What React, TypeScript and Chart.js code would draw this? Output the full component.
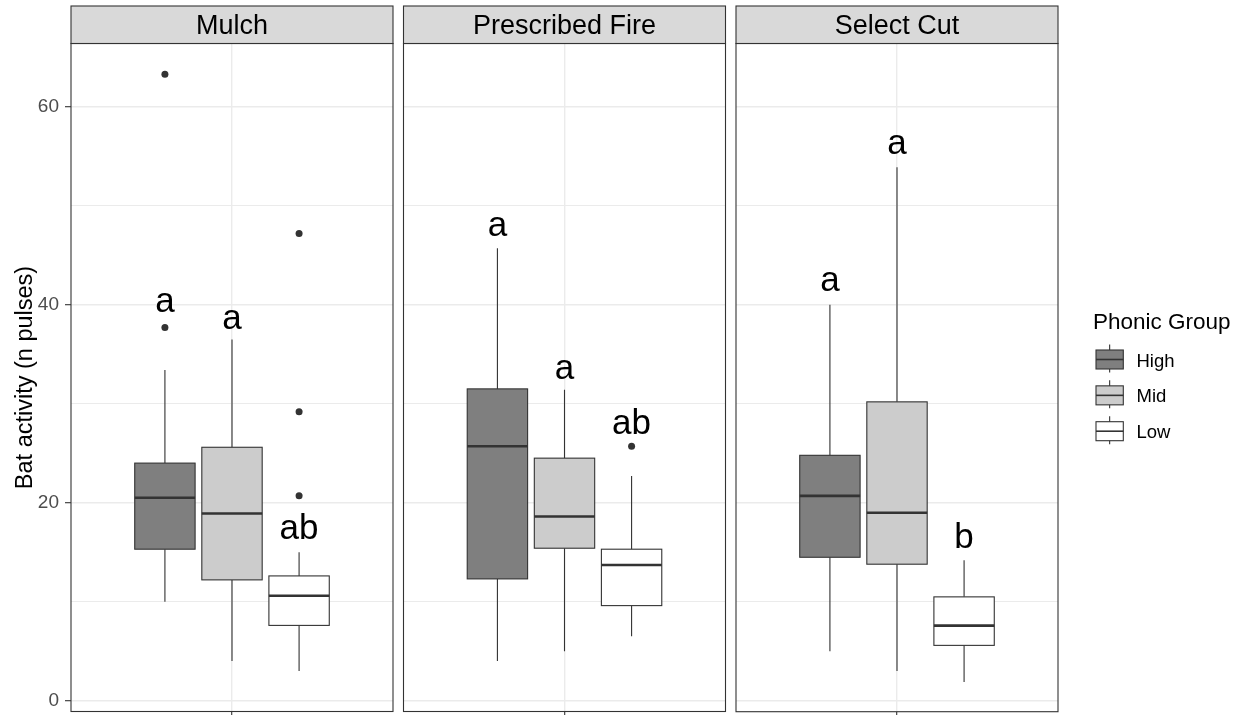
import React, { useEffect, useRef } from 'react';
import { Chart, registerables } from 'chart.js';

Chart.register(...registerables);

const FONT = "'Liberation Sans', Arial, Helvetica, sans-serif";

// ---- data ----
const treatments = ['Mulch', 'Prescribed Fire', 'Select Cut'];
const groups = ['High', 'Mid', 'Low'];
const groupColors = ['#7F7F7F', '#CCCCCC', '#FFFFFF'];

// each row: one treatment, values for [High, Mid, Low]
const whiskerLow = [[10.0, 4.0, 3.0], [4.0, 5.0, 6.5], [5.0, 3.0, 1.9]];
const quartile1 = [[15.3, 12.2, 7.6], [12.3, 15.4, 9.6], [14.5, 13.8, 5.6]];
const medians = [[20.5, 18.9, 10.6], [25.7, 18.6, 13.7], [20.7, 19.0, 7.6]];
const quartile3 = [[24.0, 25.6, 12.6], [31.5, 24.5, 15.3], [24.8, 30.2, 10.5]];
const whiskerHigh = [[33.4, 36.5, 15.0], [45.7, 31.4, 22.7], [40.0, 53.9, 14.2]];
const outliers = [
  [[63.3, 37.7], [], [47.2, 29.2, 20.7]],
  [[], [], [25.7]],
  [[], [], []],
];
const letters = [['a', 'a', 'ab'], ['a', 'a', 'ab'], ['a', 'a', 'b']];
const letterHeights = [[39.3, 37.6, 16.3], [46.9, 32.5, 26.9], [41.4, 55.2, 15.4]];
const yTicks = [0, 10, 20, 30, 40, 50, 60];
const yMin = -1.1;
const yMax = 66.4;

// ---- layout constants ----
const DODGE = 0.25;
const BOX_W = 0.225;
const PANEL_TOP = 43.5;
const STRIP_H = 37.5;
const H = 715;

function zeroPad(s: any) {
  s.paddingTop = 0;
  s.paddingBottom = 0;
  s.paddingLeft = 0;
  s.paddingRight = 0;
}

function makePlugin(p: number, legend: boolean, canvasLeft: number) {
  return {
    id: 'facet' + p,
    beforeDatasetsDraw(chart: any) {
      const { ctx } = chart;
      const x = chart.scales.x;
      const y = chart.scales.y;
      ctx.save();
      groups.forEach((_g, i) => {
        const c = 1 + (i - 1) * DODGE;
        const cx = x.getPixelForValue(c);
        const l = x.getPixelForValue(c - BOX_W / 2);
        const r = x.getPixelForValue(c + BOX_W / 2);
        const yWl = y.getPixelForValue(whiskerLow[p][i]);
        const yQ1 = y.getPixelForValue(quartile1[p][i]);
        const yMd = y.getPixelForValue(medians[p][i]);
        const yQ3 = y.getPixelForValue(quartile3[p][i]);
        const yWh = y.getPixelForValue(whiskerHigh[p][i]);
        ctx.strokeStyle = '#333333';
        ctx.lineWidth = 1.1;
        ctx.beginPath();
        ctx.moveTo(cx, yWh);
        ctx.lineTo(cx, yQ3);
        ctx.moveTo(cx, yQ1);
        ctx.lineTo(cx, yWl);
        ctx.stroke();
        ctx.fillStyle = groupColors[i];
        ctx.fillRect(l, yQ3, r - l, yQ1 - yQ3);
        ctx.strokeRect(l, yQ3, r - l, yQ1 - yQ3);
        ctx.lineWidth = 2.6;
        ctx.lineCap = 'butt';
        ctx.beginPath();
        ctx.moveTo(l, yMd);
        ctx.lineTo(r, yMd);
        ctx.stroke();
      });
      ctx.restore();
    },
    afterDatasetsDraw(chart: any) {
      const { ctx } = chart;
      const x = chart.scales.x;
      const y = chart.scales.y;
      ctx.save();
      ctx.fillStyle = '#000000';
      ctx.font = `35px ${FONT}`;
      ctx.textAlign = 'center';
      ctx.textBaseline = 'alphabetic';
      groups.forEach((_g, i) => {
        const cx = x.getPixelForValue(1 + (i - 1) * DODGE);
        ctx.fillText(letters[p][i], cx, y.getPixelForValue(letterHeights[p][i]));
      });
      ctx.restore();
    },
    afterDraw(chart: any) {
      const { ctx, chartArea } = chart;
      const { left, right, top, bottom } = chartArea;
      ctx.save();
      // panel border
      ctx.strokeStyle = '#333333';
      ctx.lineWidth = 1.1;
      ctx.strokeRect(left, top, right - left, bottom - top);
      // strip
      const st = top - STRIP_H;
      ctx.fillStyle = '#D9D9D9';
      ctx.fillRect(left, st, right - left, STRIP_H);
      ctx.strokeRect(left, st, right - left, STRIP_H);
      ctx.fillStyle = '#000000';
      ctx.font = `27px ${FONT}`;
      ctx.textAlign = 'center';
      ctx.textBaseline = 'alphabetic';
      ctx.fillText(treatments[p], (left + right) / 2, st + 28.3);

      if (legend) {
        const ox = canvasLeft;
        ctx.textAlign = 'left';
        ctx.fillStyle = '#000000';
        ctx.font = `22.5px ${FONT}`;
        ctx.fillText('Phonic Group', 1093 - ox, 329);
        ctx.font = `18.5px ${FONT}`;
        groups.forEach((g, i) => {
          const cy = 359.5 + i * 35.85;
          const bl = 1096 - ox;
          const bw = 27.3;
          const cx = bl + bw / 2;
          ctx.strokeStyle = '#333333';
          ctx.lineWidth = 1.1;
          ctx.beginPath();
          ctx.moveTo(cx, cy - 15);
          ctx.lineTo(cx, cy + 13);
          ctx.stroke();
          ctx.fillStyle = groupColors[i];
          ctx.fillRect(bl, cy - 9.5, bw, 19);
          ctx.strokeRect(bl, cy - 9.5, bw, 19);
          ctx.lineWidth = 1.6;
          ctx.beginPath();
          ctx.moveTo(bl, cy);
          ctx.lineTo(bl + bw, cy);
          ctx.stroke();
          ctx.fillStyle = '#000000';
          ctx.fillText(g, 1136.5 - ox, cy + 7);
        });
      }
      ctx.restore();
    },
  };
}

type PanelProps = {
  p: number;
  canvasLeft: number;
  canvasWidth: number;
  padLeft: number;
  padRight: number;
  first: boolean;
  legend: boolean;
};

function Panel({ p, canvasLeft, canvasWidth, padLeft, padRight, first, legend }: PanelProps) {
  const ref = useRef<HTMLCanvasElement>(null);
  useEffect(() => {
    const chart = new Chart(ref.current as HTMLCanvasElement, {
      type: 'scatter',
      data: {
        datasets: groups.map((g, i) => ({
          label: g,
          data: outliers[p][i].map((v) => ({ x: 1 + (i - 1) * DODGE, y: v })),
          pointRadius: 3.5,
          pointHoverRadius: 3.5,
          backgroundColor: '#333333',
          borderWidth: 0,
        })),
      },
      options: {
        responsive: false,
        animation: false,
        events: [],
        layout: { padding: { top: PANEL_TOP, bottom: 0, left: padLeft, right: padRight } },
        plugins: {
          legend: { display: false },
          tooltip: { enabled: false },
          title: { display: false },
        },
        scales: {
          x: {
            type: 'linear',
            min: 0.4,
            max: 1.6,
            afterBuildTicks: (s: any) => {
              s.ticks = [{ value: 1 }];
            },
            ticks: { display: false },
            grid: {
              color: '#EBEBEB',
              lineWidth: 1.4,
              tickColor: '#333333',
              tickLength: 4,
              tickWidth: 1.1,
            },
            border: { display: false },
            afterFit: (s: any) => {
              s.height = 3.3;
              zeroPad(s);
            },
          },
          y: {
            type: 'linear',
            min: yMin,
            max: yMax,
            afterBuildTicks: (s: any) => {
              s.ticks = yTicks.map((v) => ({ value: v }));
            },
            ticks: {
              display: first,
              autoSkip: false,
              callback: (v: any) => (Number(v) % 20 === 0 ? String(v) : ''),
              color: '#4D4D4D',
              font: { family: FONT, size: 19 },
              padding: 6,
            },
            grid: {
              color: '#EBEBEB',
              lineWidth: (c: any) => (c.tick && c.tick.value % 20 !== 0 ? 1.0 : 1.4),
              drawTicks: first,
              tickLength: 6,
              tickWidth: 1.1,
              tickColor: (c: any) => (c.tick && c.tick.value % 20 !== 0 ? 'rgba(0,0,0,0)' : '#333333'),
            },
            border: { display: false },
            title: first
              ? {
                  display: true,
                  text: 'Bat activity (n pulses)',
                  color: '#000000',
                  font: { family: FONT, size: 23.5 },
                  padding: { top: 11, bottom: 0 },
                }
              : { display: false },
            afterFit: (s: any) => {
              s.width = first ? 71 : 0;
              zeroPad(s);
            },
          },
        },
      } as any,
      plugins: [makePlugin(p, legend, canvasLeft)],
    });
    return () => chart.destroy();
  }, []);
  return (
    <canvas
      ref={ref}
      width={canvasWidth}
      height={H}
      style={{ position: 'absolute', left: canvasLeft, top: 0, display: 'block' }}
    />
  );
}

export default function App() {
  return (
    <div
      style={{
        position: 'absolute',
        left: 0,
        top: 0,
        width: 1241,
        height: H,
        background: '#FFFFFF',
        overflow: 'hidden',
      }}
    >
      <Panel p={0} canvasLeft={0} canvasWidth={400} padLeft={0} padRight={7} first={true} legend={false} />
      <Panel p={1} canvasLeft={398} canvasWidth={333} padLeft={5.5} padRight={5.5} first={false} legend={false} />
      <Panel p={2} canvasLeft={731} canvasWidth={510} padLeft={5} padRight={183} first={false} legend={true} />
    </div>
  );
}
